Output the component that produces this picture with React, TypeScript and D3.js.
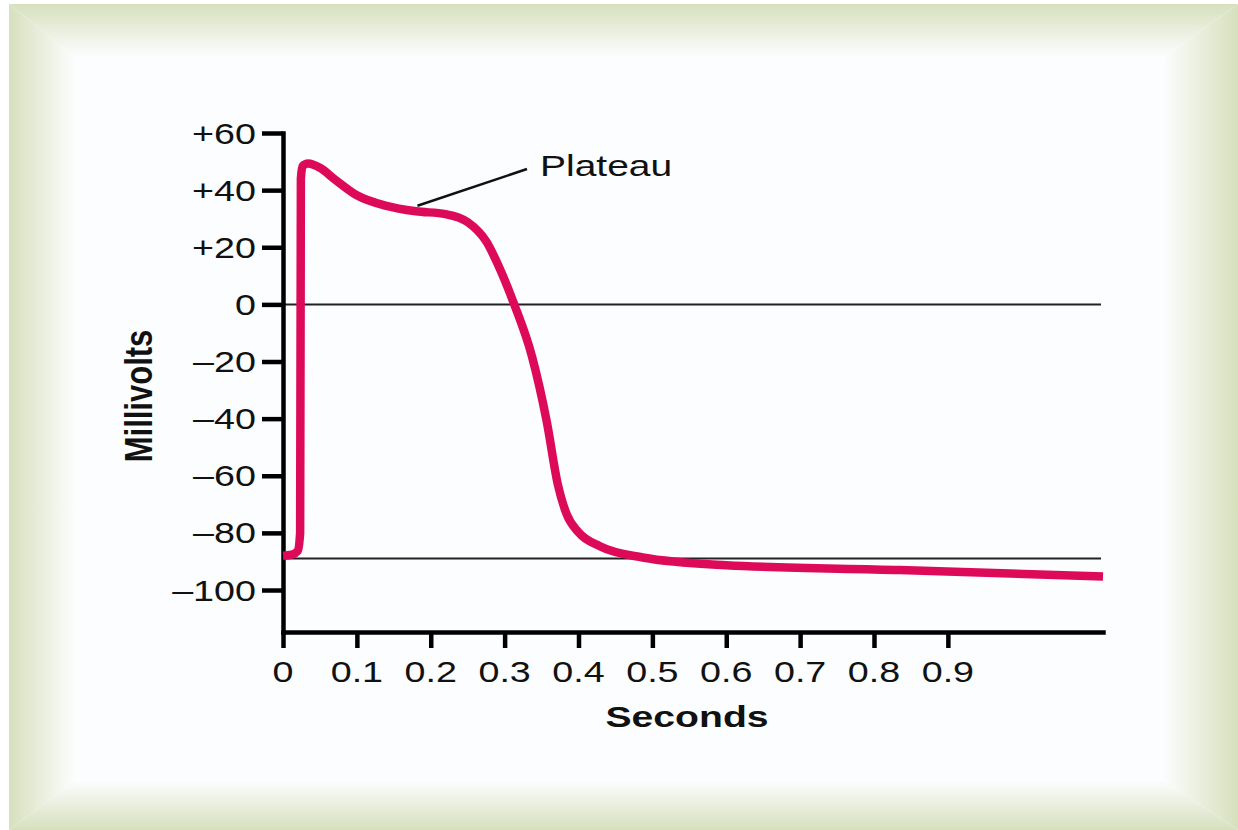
import React, { useEffect, useRef } from "react";
import * as d3 from "d3";

// action potential trace (seconds, millivolts)
const seconds = [0, 0.012, 0.02, 0.0232, 0.0242, 0.0265, 0.034, 0.05, 0.07, 0.1, 0.14, 0.18, 0.22, 0.25, 0.276, 0.29, 0.313, 0.337, 0.357, 0.372, 0.384, 0.4, 0.429, 0.487, 0.6, 0.835, 1.11];
const millivolts = [-88, -87.6, -86.3, -80, 44, 48.4, 49.3, 47.8, 43.8, 38.2, 34.5, 32.6, 31.6, 28.8, 21.7, 14.5, 0, -18.2, -41, -63, -73.5, -79.8, -84.7, -88.6, -91.3, -93, -95.3];

const yTicks = [60, 40, 20, 0, -20, -40, -60, -80, -100];
const yTickLabels = ["+60", "+40", "+20", "0", "–20", "–40", "–60", "–80", "–100"];
const xTicks = [0, 0.1, 0.2, 0.3, 0.4, 0.5, 0.6, 0.7, 0.8, 0.9];
const xTickLabels = ["0", "0.1", "0.2", "0.3", "0.4", "0.5", "0.6", "0.7", "0.8", "0.9"];
const refLines = [0, -89];
const plateauPoint = { t: 0.182, v: 33.5 };

const FONT = "'Liberation Sans', Arial, sans-serif";
const STRETCH = 1.3;

export default function App() {
  const svgRef = useRef<SVGSVGElement>(null);

  useEffect(() => {
    if (!svgRef.current) return;
    const width = 1238;
    const height = 830;
    const svg = d3.select(svgRef.current);
    svg.selectAll("*").remove();
    svg.attr("width", width).attr("height", height).attr("viewBox", [0, 0, width, height]);

    // frame: bevelled green border fading into white
    const green = "#d6e0bd";
    const paper = "#fcfdfe";
    const outer = { x0: 9, y0: 4, x1: 1238, y1: 830 };
    const inner = { x0: 75, y0: 57, x1: 1163, y1: 780 };
    const defs = svg.append("defs");
    const grads = [
      { id: "g-left", x1: outer.x0, y1: 0, x2: inner.x0, y2: 0 },
      { id: "g-right", x1: outer.x1, y1: 0, x2: inner.x1, y2: 0 },
      { id: "g-top", x1: 0, y1: outer.y0, x2: 0, y2: inner.y0 },
      { id: "g-bottom", x1: 0, y1: outer.y1, x2: 0, y2: inner.y1 },
    ];
    grads.forEach((g) => {
      const lg = defs.append("linearGradient")
        .attr("id", g.id)
        .attr("gradientUnits", "userSpaceOnUse")
        .attr("x1", g.x1).attr("y1", g.y1).attr("x2", g.x2).attr("y2", g.y2);
      lg.append("stop").attr("offset", "0%").attr("stop-color", green);
      lg.append("stop").attr("offset", "100%").attr("stop-color", paper);
    });
    svg.append("rect").attr("width", width).attr("height", height).attr("fill", "#ffffff");
    const o = outer, i = inner;
    const panels: [string, number[][]][] = [
      ["g-top", [[o.x0, o.y0], [o.x1, o.y0], [i.x1, i.y0], [i.x0, i.y0]]],
      ["g-bottom", [[o.x0, o.y1], [o.x1, o.y1], [i.x1, i.y1], [i.x0, i.y1]]],
      ["g-left", [[o.x0, o.y0], [i.x0, i.y0], [i.x0, i.y1], [o.x0, o.y1]]],
      ["g-right", [[o.x1, o.y0], [i.x1, i.y0], [i.x1, i.y1], [o.x1, o.y1]]],
    ];
    panels.forEach(([id, pts]) => {
      svg.append("polygon")
        .attr("points", pts.map((p) => p.join(",")).join(" "))
        .attr("fill", `url(#${id})`);
    });
    svg.append("rect")
      .attr("x", i.x0).attr("y", i.y0)
      .attr("width", i.x1 - i.x0).attr("height", i.y1 - i.y0)
      .attr("fill", paper);

    // scales
    const x = d3.scaleLinear().domain([0, 1.11]).range([283, 1103]);
    const y = d3.scaleLinear().domain([-114.7, 60]).range([632, 133]);

    // reference lines at 0 and resting potential
    svg.append("g")
      .selectAll("line")
      .data(refLines)
      .join("line")
      .attr("x1", x(0)).attr("x2", 1101)
      .attr("y1", (d) => y(d)).attr("y2", (d) => y(d))
      .attr("stroke", "#222").attr("stroke-width", 2);

    // axes
    const yAxis = d3.axisLeft(y).tickValues(yTicks).tickSize(21).tickSizeOuter(0).tickFormat(() => "");
    const xAxis = d3.axisBottom(x).tickValues(xTicks).tickSize(16).tickSizeOuter(0).tickFormat(() => "");
    const gy = svg.append("g").attr("transform", `translate(${x(0)},0)`).call(yAxis);
    const gx = svg.append("g").attr("transform", `translate(0,${y.range()[0]})`).call(xAxis);
    [gx, gy].forEach((g) => {
      g.selectAll("path, line").attr("stroke", "#000").attr("stroke-width", 4.5);
      g.select(".domain").attr("stroke-linecap", "square");
    });

    // tick labels (the figure's type is stretched horizontally)
    svg.append("g")
      .selectAll("text")
      .data(yTicks)
      .join("text")
      .attr("transform", (d) => `translate(${x(0) - 27},${y(d) + 10.5}) scale(${STRETCH},1)`)
      .attr("text-anchor", "end")
      .attr("font-family", FONT)
      .attr("font-size", 29)
      .attr("fill", "#111")
      .text((_, k) => yTickLabels[k]);

    svg.append("g")
      .selectAll("text")
      .data(xTicks)
      .join("text")
      .attr("transform", (d) => `translate(${x(d)},${y.range()[0] + 50}) scale(${STRETCH},1)`)
      .attr("text-anchor", "middle")
      .attr("font-family", FONT)
      .attr("font-size", 29)
      .attr("fill", "#111")
      .text((_, k) => xTickLabels[k]);

    // axis titles
    svg.append("text")
      .attr("transform", `translate(687,727) scale(1.35,1)`)
      .attr("text-anchor", "middle")
      .attr("font-family", FONT)
      .attr("font-weight", "bold")
      .attr("font-size", 29)
      .attr("fill", "#111")
      .text("Seconds");

    svg.append("text")
      .attr("transform", `translate(152,396) rotate(-90) scale(1,1.25)`)
      .attr("text-anchor", "middle")
      .attr("font-family", FONT)
      .attr("font-weight", "bold")
      .attr("font-size", 31)
      .attr("fill", "#111")
      .text("Millivolts");

    // trace
    const trace = seconds.map((t, k) => [t, millivolts[k]] as [number, number]);
    const line = d3.line<[number, number]>()
      .x((d) => x(d[0]))
      .y((d) => y(d[1]))
      .curve(d3.curveMonotoneX);
    svg.append("path")
      .datum(trace)
      .attr("d", line)
      .attr("fill", "none")
      .attr("stroke", "#dd0a5a")
      .attr("stroke-width", 8.5)
      .attr("stroke-linejoin", "round")
      .attr("stroke-linecap", "butt");

    // plateau annotation
    svg.append("line")
      .attr("x1", x(plateauPoint.t)).attr("y1", y(plateauPoint.v) - 3)
      .attr("x2", 527).attr("y2", 169)
      .attr("stroke", "#111").attr("stroke-width", 2.5);
    svg.append("text")
      .attr("transform", `translate(540,176) scale(${STRETCH},1)`)
      .attr("font-family", FONT)
      .attr("font-size", 30)
      .attr("fill", "#111")
      .text("Plateau");
  }, []);

  return (
    <svg ref={svgRef} style={{ position: "absolute", left: 0, top: 0, display: "block" }} />
  );
}
